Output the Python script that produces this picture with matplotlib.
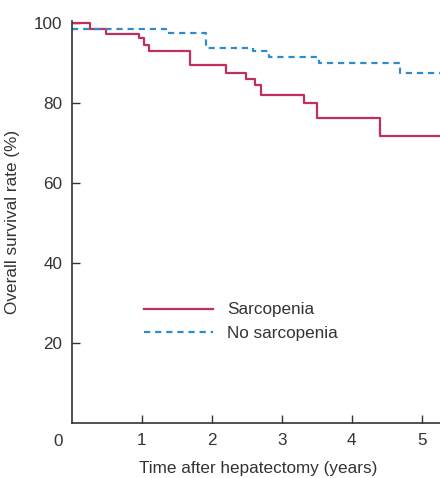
import matplotlib
matplotlib.use("Agg")
import matplotlib.pyplot as plt

plt.rcParams['font.family'] = ['Liberation Sans', 'DejaVu Sans']

# Sarcopenia step curve (time in years, survival %)
sarc_t = [0.0, 0.26, 0.48, 0.96, 1.03, 1.10, 1.68, 2.20, 2.48, 2.61, 2.70, 3.32, 3.50, 4.40, 5.30]
sarc_s = [100.0, 98.4, 97.2, 96.2, 94.6, 93.1, 89.6, 87.4, 85.9, 84.4, 81.9, 79.9, 76.2, 71.7, 71.7]

# No sarcopenia step curve
nos_t = [0.0, 1.35, 1.92, 2.59, 2.81, 3.53, 4.69, 5.30]
nos_s = [98.4, 97.6, 93.7, 93.1, 91.4, 89.9, 87.4, 87.4]

yticks = [20, 40, 60, 80, 100]
xticks = [1, 2, 3, 4, 5]

red = '#c0305c'
blue = '#2e8ccc'
fs = 12.3

fig = plt.figure(figsize=(4.40, 4.78), dpi=100)
ax = fig.add_axes([72/440, 1-423/478, 1-72/440, (423-21)/478])

ax.step(sarc_t, sarc_s, where='post', color=red, lw=1.6, label='Sarcopenia')
ax.step(nos_t, nos_s, where='post', color=blue, lw=1.6, ls=(0, (2.8, 2.2)), label='No sarcopenia')

ax.set_xlim(0, 5.26)
ax.set_ylim(0, 100.5)
ax.spines['top'].set_visible(False)
ax.spines['right'].set_visible(False)
for s in ['left', 'bottom']:
    ax.spines[s].set_color('#333333')
    ax.spines[s].set_linewidth(1.2)

ax.set_yticks(yticks)
ax.set_xticks(xticks)
ax.tick_params(direction='in', length=6, width=1.0, colors='#333333', labelsize=fs,
               labelcolor='#333333')
ax.tick_params(axis='x', pad=7)
ax.tick_params(axis='y', pad=7)
ax.text(-0.2, -2.8, '0', ha='center', va='top', fontsize=fs, color='#333333')

ax.set_ylabel('Overall survival rate (%)', fontsize=fs, color='#333333', labelpad=10)
ax.set_xlabel('Time after hepatectomy (years)', fontsize=fs, color='#333333', labelpad=12)
ax.xaxis.set_label_coords((258-72)/368, -0.095)

leg = ax.legend(loc='upper left', bbox_to_anchor=(0.155, 0.338), frameon=False,
                fontsize=fs, handlelength=4.0, handletextpad=0.85, labelspacing=0.5,
                labelcolor='#333333')

fig.savefig('out.png', dpi=100)
